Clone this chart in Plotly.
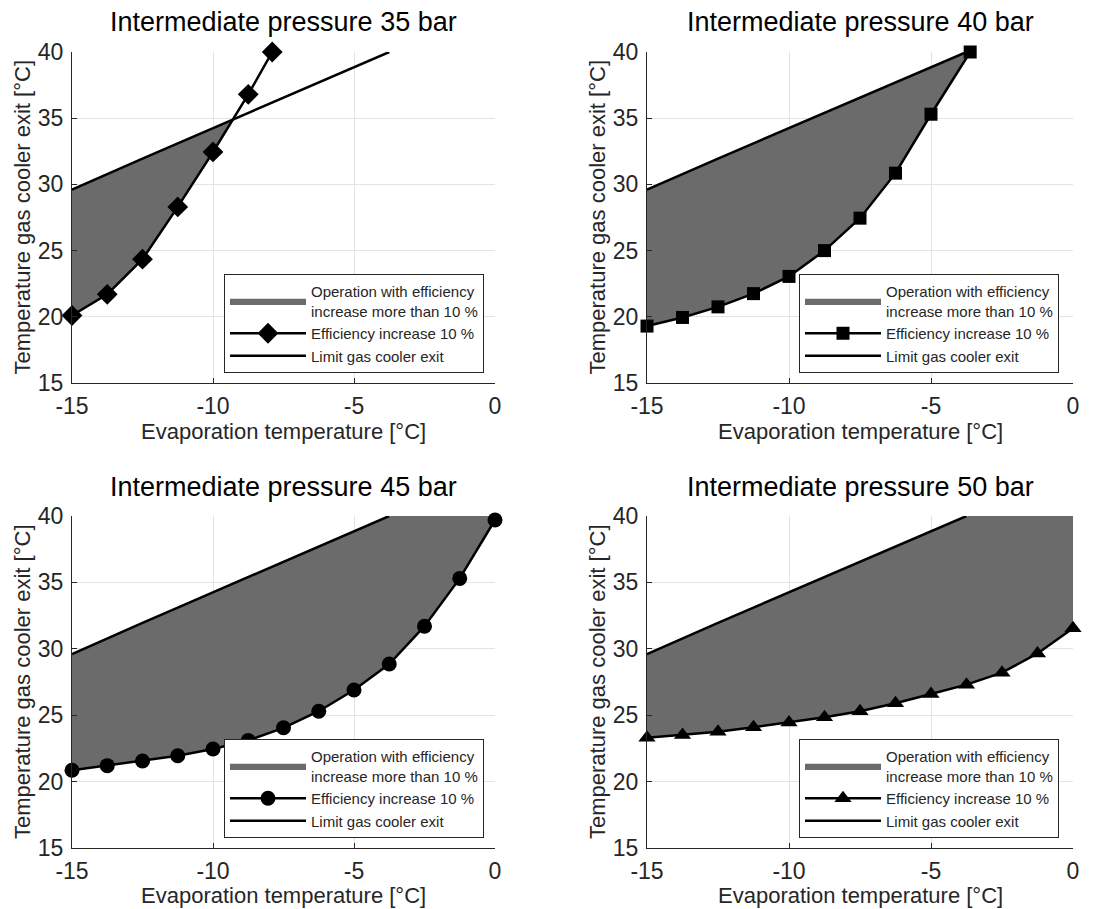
import numpy as np
import plotly.graph_objects as go

# ---------------- data ----------------
titles = ["Intermediate pressure 35 bar", "Intermediate pressure 40 bar",
          "Intermediate pressure 45 bar", "Intermediate pressure 50 bar"]
symbols = ["diamond", "square", "circle", "triangle-up"]
marker_sizes = [16, 13, 15, 15]

# limit gas cooler exit (same in all panels)
limit_x = [-15, -13.75, -12.5, -11.25, -10, -8.75, -7.5, -6.25, -5, -3.75]
limit_y = [29.6, 30.8, 31.95, 33.1, 34.25, 35.4, 36.55, 37.7, 38.85, 40.0]

# efficiency increase 10 % curves
eff35_x = [-15, -13.75, -12.5, -11.25, -10, -8.75, -7.9]
eff35_y = [20.1, 21.7, 24.35, 28.3, 32.45, 36.8, 40.0]

eff40_x = [-15, -13.75, -12.5, -11.25, -10, -8.75, -7.5, -6.25, -5, -3.62]
eff40_y = [19.3, 19.95, 20.75, 21.75, 23.05, 25.0, 27.45, 30.85, 35.3, 40.0]

eff45_x = [-15, -13.75, -12.5, -11.25, -10, -8.75, -7.5, -6.25, -5, -3.75, -2.5, -1.25, 0]
eff45_y = [20.85, 21.2, 21.55, 21.95, 22.45, 23.1, 24.05, 25.3, 26.9, 28.85, 31.7, 35.3, 39.7]

eff50_x = [-15, -13.75, -12.5, -11.25, -10, -8.75, -7.5, -6.25, -5, -3.75, -2.5, -1.25, 0]
eff50_y = [23.3, 23.5, 23.75, 24.1, 24.45, 24.85, 25.3, 25.9, 26.6, 27.3, 28.2, 29.65, 31.55]

eff_x = [eff35_x, eff40_x, eff45_x, eff50_x]
eff_y = [eff35_y, eff40_y, eff45_y, eff50_y]

x_ticks = [-15, -10, -5, 0]
x_tick_labels = ["-15", "-10", "-5", "0"]
y_ticks = [15, 20, 25, 30, 35, 40]
y_tick_labels = ["15", "20", "25", "30", "35", "40"]
x_range = [-15, 0]
y_range = [15, 40]

# ---------------- layout geometry (pixels in the 1096x909 view) ----------------
OFF = 8                      # page body margin of the browser
W, H = 1096 - OFF, 909 - OFF
cols = [(72, 495), (647, 1073)]
rows = [(52, 383), (516, 848)]


def fx(p):
    return (p - OFF) / W


def fy(p):
    return 1 - (p - OFF) / H


FONT = "Liberation Sans, Arial, Helvetica, sans-serif"
TXT = "#262626"
FILL = "rgb(107,107,107)"

fig = go.Figure()
annotations = []
legend_names = ["legend", "legend2", "legend3", "legend4"]

for i in range(4):
    r, c = divmod(i, 2)
    ax = "" if i == 0 else str(i + 1)
    xref, yref = "x" + ax, "y" + ax
    lx0, lx1 = cols[c]
    ty0, ty1 = rows[r]

    cx = np.array(eff_x[i], dtype=float)
    cy = np.array(eff_y[i], dtype=float)
    # fill region between limit (capped at axis top) and efficiency curve
    g = np.linspace(-15, cx[-1], 3001)
    upper = np.minimum(np.interp(g, limit_x, limit_y, right=limit_y[-1]), y_range[1])
    lower = np.interp(g, cx, cy)
    m = upper >= lower
    gx = g[m]
    px = np.concatenate([gx, gx[::-1]])
    py = np.concatenate([upper[m], lower[m][::-1]])

    leg = legend_names[i]
    fig.add_trace(go.Scatter(
        x=px, y=py, mode="lines", fill="toself", fillcolor=FILL,
        line=dict(width=0.5, color=FILL),
        name="Operation with efficiency<br>increase more than 10 %",
        xaxis=xref, yaxis=yref, legend=leg, hoverinfo="skip"))
    fig.add_trace(go.Scatter(
        x=eff_x[i], y=eff_y[i], mode="lines+markers",
        line=dict(color="black", width=2.5),
        marker=dict(symbol=symbols[i], size=marker_sizes[i], color="black"),
        name="Efficiency increase 10 %", cliponaxis=False,
        xaxis=xref, yaxis=yref, legend=leg))
    fig.add_trace(go.Scatter(
        x=limit_x, y=limit_y, mode="lines",
        line=dict(color="black", width=2.5),
        name="Limit gas cooler exit",
        xaxis=xref, yaxis=yref, legend=leg))

    axis_common = dict(
        showline=True, linecolor=TXT, linewidth=1, mirror=False,
        showgrid=True, gridcolor="#e3e3e3", gridwidth=1, zeroline=False,
        ticks="inside", ticklen=5, tickcolor=TXT, automargin=False,
        tickfont=dict(family=FONT, size=23, color=TXT))
    fig.update_layout(**{
        "xaxis" + ax: dict(axis_common, domain=[fx(lx0), fx(lx1)], range=x_range,
                           tickvals=x_ticks, ticktext=x_tick_labels, anchor=yref,
                           ticklabelstandoff=2),
        "yaxis" + ax: dict(axis_common, domain=[fy(ty1), fy(ty0)], range=y_range,
                           tickvals=y_ticks, ticktext=y_tick_labels, anchor=xref,
                           ticklabelstandoff=3),
    })

    # legend placement
    fig.update_layout(**{leg: dict(
        x=fx(lx0 + 412), y=fy(ty1 - 10), xanchor="right", yanchor="bottom",
        bgcolor="white", bordercolor=TXT, borderwidth=1,
        font=dict(family=FONT, size=15, color=TXT),
        itemwidth=76, tracegroupgap=0, traceorder="normal")})

    cxm = (lx0 + lx1) / 2
    annotations.append(dict(text=titles[i], x=fx(cxm), y=fy(22 if r == 0 else 487),
                            xref="paper", yref="paper", showarrow=False,
                            font=dict(family=FONT, size=27, color="black"),
                            xanchor="center", yanchor="middle"))
    annotations.append(dict(text="Evaporation temperature [°C]", x=fx(cxm),
                            y=fy(431 if r == 0 else 895),
                            xref="paper", yref="paper", showarrow=False,
                            font=dict(family=FONT, size=22, color=TXT),
                            xanchor="center", yanchor="middle"))
    annotations.append(dict(text="Temperature gas cooler exit [°C]", x=fx(lx0 - 50),
                            y=fy((ty0 + ty1) / 2), textangle=-90,
                            xref="paper", yref="paper", showarrow=False,
                            font=dict(family=FONT, size=22, color=TXT),
                            xanchor="center", yanchor="middle"))

fig.update_layout(
    width=W, height=H, margin=dict(l=0, r=0, t=0, b=0, autoexpand=False),
    paper_bgcolor="white", plot_bgcolor="white",
    annotations=annotations, showlegend=True,
)

fig.write_html("out.html")
